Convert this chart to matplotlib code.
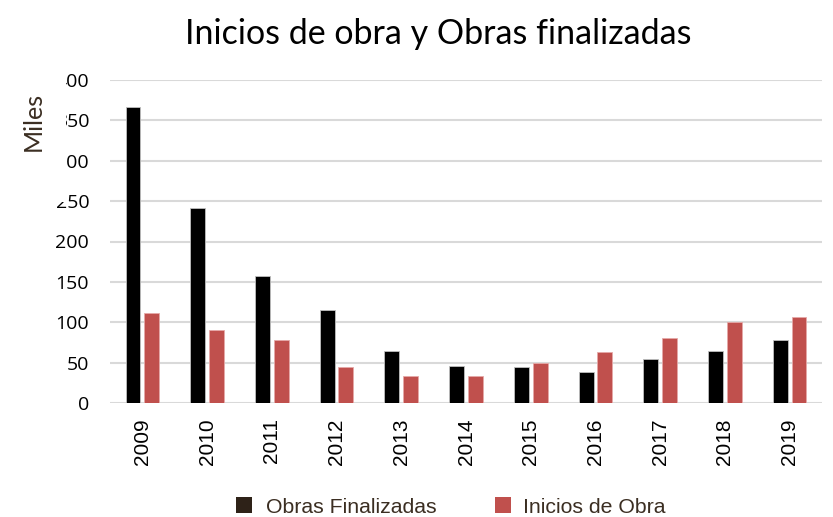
import matplotlib
matplotlib.use("Agg")
import matplotlib.pyplot as plt
import numpy as np
from matplotlib.patches import Rectangle

years = ["2009", "2010", "2011", "2012", "2013", "2014", "2015", "2016", "2017", "2018", "2019"]
obras_finalizadas = [367, 241, 157, 115, 64, 46, 44, 39, 54, 64, 78]
inicios_obra = [111, 91, 78, 44, 34, 34, 49, 63, 80, 100, 106]
yticks = [0, 50, 100, 150, 200, 250, 300, 350, 400]

W, H = 833, 517
fig = plt.figure(figsize=(W / 100, H / 100), dpi=100)
ax = fig.add_axes([110 / W, 1 - 403 / H, (822 - 110) / W, (403 - 80) / H])

x = np.arange(len(years))
bw = 0.23
off = 0.145
ax.bar(x - off, obras_finalizadas, bw, color="#000000", edgecolor="#bfbfbf", linewidth=0.6, zorder=3)
ax.bar(x + off, inicios_obra, bw, color="#c0504d", edgecolor="#e6a9a8", linewidth=0.6, zorder=3)

ax.set_xlim(-0.5, len(years) - 0.5)
ax.set_ylim(0, 400)
ax.set_yticks(yticks)
ax.set_yticklabels([str(v) for v in yticks], fontsize=14, family="Open Sans")
ax.set_xticks(x)
ax.set_xticklabels(years, rotation=90, fontsize=15, family="Liberation Sans")
ax.tick_params(axis="y", length=0, pad=15)
ax.tick_params(axis="x", length=0, pad=11)
ax.grid(axis="y", color="#d9d9d9", linewidth=1.5, zorder=0)
for s in ax.spines.values():
    s.set_visible(False)

fig.text(438 / W, 1 - 44 / H, "Inicios de obra y Obras finalizadas", ha="center", va="baseline",
         fontsize=24.5, family="Lato", color="#000000")

# white box of the axis-title area covering part of the tick labels
fig.patches.append(Rectangle((0, 1 - 202 / H), 66 / W, (202 - 62) / H, transform=fig.transFigure,
                             facecolor="white", edgecolor="none", zorder=5))
fig.text(33 / W, 1 - 121 / H, "Miles", rotation=90, ha="center", va="center", fontsize=18,
         family="Lato", color="#3b2e22", zorder=6)

# legend
fig.patches.append(Rectangle((236 / W, 1 - 512.5 / H), 15.7 / W, 15.7 / H, transform=fig.transFigure,
                             facecolor="#2e2218", edgecolor="none"))
fig.text(266 / W, 1 - 512.7 / H, "Obras Finalizadas", ha="left", va="baseline", fontsize=15.3,
         family="Liberation Sans", color="#3b2e22")
fig.patches.append(Rectangle((495 / W, 1 - 512.5 / H), 15.7 / W, 15.7 / H, transform=fig.transFigure,
                             facecolor="#c0504d", edgecolor="none"))
fig.text(522.7 / W, 1 - 512.7 / H, "Inicios de Obra", ha="left", va="baseline", fontsize=15.3,
         family="Liberation Sans", color="#3b2e22")

fig.savefig("out.png", dpi=100)
